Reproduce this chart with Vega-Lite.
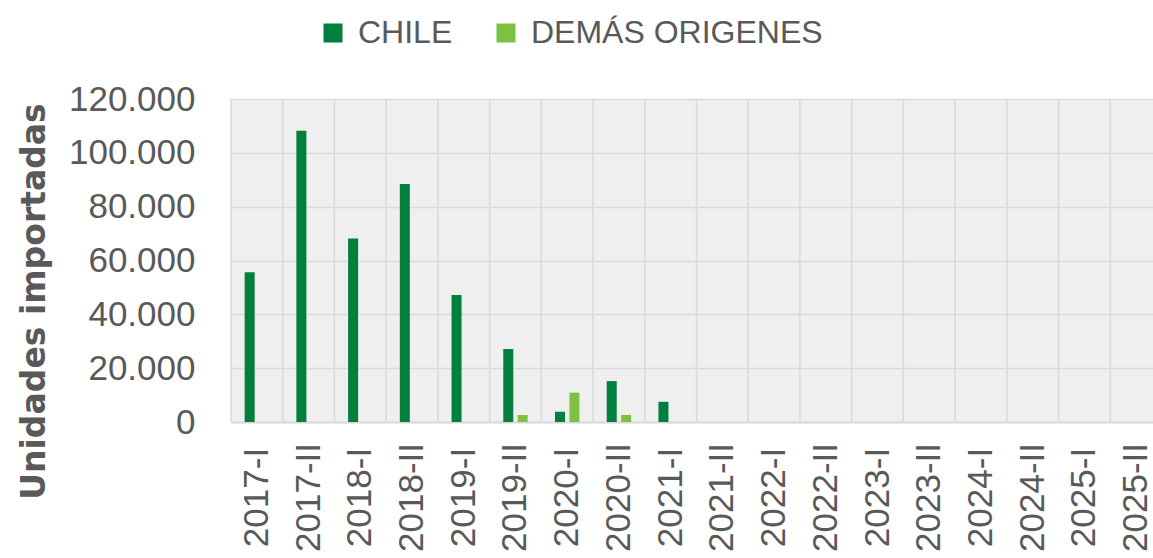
{
  "$schema": "https://vega.github.io/schema/vega-lite/v6.json",
  "width": 922,
  "height": 323,
  "autosize": {"type": "none"},
  "padding": {"left": 231, "top": 99, "right": 0, "bottom": 136},
  "background": "white",
  "config": {
    "view": {"stroke": null, "fill": "#EFEFEF"},
    "font": "Liberation Sans"
  },
  "data": {
    "values": [
      {"periodo": "2017-I", "origen": "CHILE", "unidades": 55600},
      {"periodo": "2017-I", "origen": "DEMÁS ORIGENES", "unidades": 0},
      {"periodo": "2017-II", "origen": "CHILE", "unidades": 108200},
      {"periodo": "2017-II", "origen": "DEMÁS ORIGENES", "unidades": 0},
      {"periodo": "2018-I", "origen": "CHILE", "unidades": 68200},
      {"periodo": "2018-I", "origen": "DEMÁS ORIGENES", "unidades": 0},
      {"periodo": "2018-II", "origen": "CHILE", "unidades": 88400},
      {"periodo": "2018-II", "origen": "DEMÁS ORIGENES", "unidades": 0},
      {"periodo": "2019-I", "origen": "CHILE", "unidades": 47200},
      {"periodo": "2019-I", "origen": "DEMÁS ORIGENES", "unidades": 0},
      {"periodo": "2019-II", "origen": "CHILE", "unidades": 27100},
      {"periodo": "2019-II", "origen": "DEMÁS ORIGENES", "unidades": 2600},
      {"periodo": "2020-I", "origen": "CHILE", "unidades": 3800},
      {"periodo": "2020-I", "origen": "DEMÁS ORIGENES", "unidades": 10900},
      {"periodo": "2020-II", "origen": "CHILE", "unidades": 15200},
      {"periodo": "2020-II", "origen": "DEMÁS ORIGENES", "unidades": 2600},
      {"periodo": "2021-I", "origen": "CHILE", "unidades": 7500},
      {"periodo": "2021-I", "origen": "DEMÁS ORIGENES", "unidades": 0},
      {"periodo": "2021-II", "origen": "CHILE", "unidades": 0},
      {"periodo": "2021-II", "origen": "DEMÁS ORIGENES", "unidades": 0},
      {"periodo": "2022-I", "origen": "CHILE", "unidades": 0},
      {"periodo": "2022-I", "origen": "DEMÁS ORIGENES", "unidades": 0},
      {"periodo": "2022-II", "origen": "CHILE", "unidades": 0},
      {"periodo": "2022-II", "origen": "DEMÁS ORIGENES", "unidades": 0},
      {"periodo": "2023-I", "origen": "CHILE", "unidades": 0},
      {"periodo": "2023-I", "origen": "DEMÁS ORIGENES", "unidades": 0},
      {"periodo": "2023-II", "origen": "CHILE", "unidades": 0},
      {"periodo": "2023-II", "origen": "DEMÁS ORIGENES", "unidades": 0},
      {"periodo": "2024-I", "origen": "CHILE", "unidades": 0},
      {"periodo": "2024-I", "origen": "DEMÁS ORIGENES", "unidades": 0},
      {"periodo": "2024-II", "origen": "CHILE", "unidades": 0},
      {"periodo": "2024-II", "origen": "DEMÁS ORIGENES", "unidades": 0},
      {"periodo": "2025-I", "origen": "CHILE", "unidades": 0},
      {"periodo": "2025-I", "origen": "DEMÁS ORIGENES", "unidades": 0},
      {"periodo": "2025-II", "origen": "CHILE", "unidades": 0},
      {"periodo": "2025-II", "origen": "DEMÁS ORIGENES", "unidades": 0}
    ]
  },
  "layer": [
    {
      "transform": [{"filter": "datum.origen === 'CHILE'"}],
      "mark": {"type": "rule", "color": "#D9D9D9", "strokeWidth": 1.5},
      "encoding": {
        "x": {"field": "periodo", "type": "nominal", "sort": null, "bandPosition": 0}
      }
    },
    {
      "mark": {"type": "bar"},
      "encoding": {
        "x": {
          "field": "periodo",
          "type": "nominal",
          "sort": null,
          "scale": {"paddingInner": 0, "paddingOuter": 0, "range": [0, 931]},
          "axis": {
            "title": null,
            "domain": true,
            "domainColor": "#D9D9D9",
            "domainWidth": 2,
            "ticks": false,
            "grid": false,
            "labelAngle": -90,
            "labelAlign": "center",
            "labelBaseline": "middle",
            "labelPadding": 75,
            "labelFontSize": 35,
            "labelColor": "#595959",
            "labelOverlap": false
          }
        },
        "xOffset": {
          "field": "origen",
          "type": "nominal",
          "sort": ["CHILE", "DEMÁS ORIGENES"],
          "scale": {"paddingInner": 0.305, "paddingOuter": 0.948}
        },
        "y": {
          "field": "unidades",
          "type": "quantitative",
          "scale": {"domain": [0, 120000], "nice": false},
          "axis": {
            "title": "Unidades importadas",
            "titleFont": "DejaVu Sans",
            "titleFontSize": 33,
            "titleFontWeight": "bold",
            "titleColor": "#595959",
            "titleAngle": 270,
            "titleAlign": "center",
            "titleBaseline": "alphabetic",
            "titleX": -187,
            "titleY": 202,
            "values": [0, 20000, 40000, 60000, 80000, 100000, 120000],
            "labelExpr": "replace(format(datum.value, ','), ',', '.')",
            "labelFontSize": 35,
            "labelColor": "#595959",
            "labelPadding": 36,
            "ticks": false,
            "domain": false,
            "grid": true,
            "gridColor": "#D9D9D9",
            "gridWidth": 1.5
          }
        },
        "color": {
          "field": "origen",
          "type": "nominal",
          "scale": {"domain": ["CHILE", "DEMÁS ORIGENES"], "range": ["#007F3D", "#7CC142"]},
          "legend": {
            "title": null,
            "orient": "none",
            "legendX": 86,
            "legendY": -82,
            "direction": "horizontal",
            "symbolType": "square",
            "symbolSize": 361,
            "symbolStrokeWidth": 0,
            "labelFontSize": 32,
            "labelColor": "#595959",
            "labelOffset": 9,
            "labelLimit": 0,
            "columnPadding": 37,
            "padding": 0
          }
        }
      }
    }
  ]
}
